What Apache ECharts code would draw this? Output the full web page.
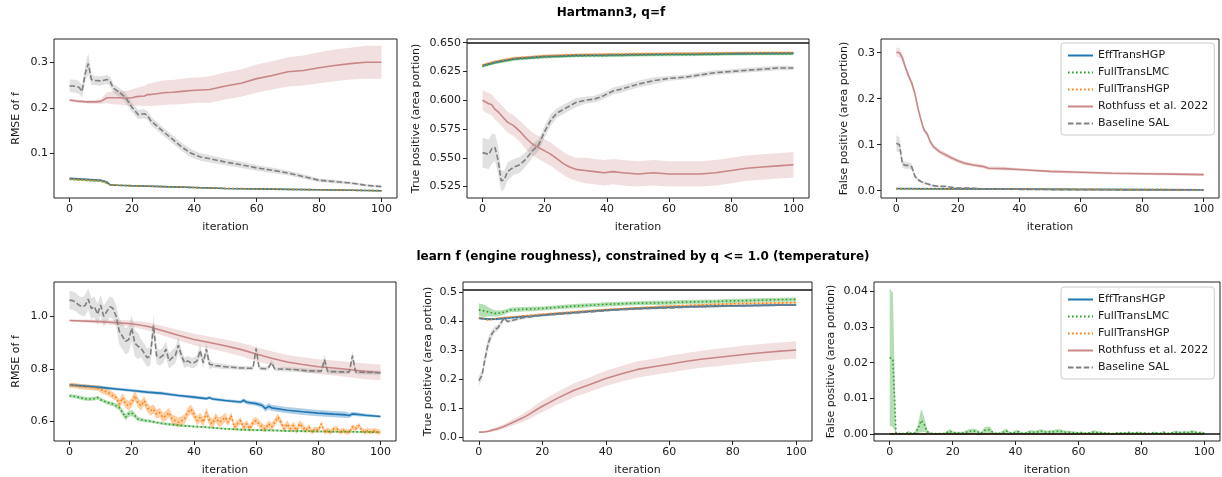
<!DOCTYPE html>
<html><head><meta charset="utf-8">
<script src="https://cdn.jsdelivr.net/npm/echarts@6/dist/echarts.min.js"></script>
<style>html,body{margin:0;padding:0;background:#fff}#c{width:1222px;height:477px}</style>
</head><body><div id="c"></div><script>
// ---------- data ----------
const SERIES_NAMES = ['EffTransHGP','FullTransLMC','FullTransHGP','Rothfuss et al. 2022','Baseline SAL'];
const X_TICKS = [0,20,40,60,80,100];
const ITER = [0,1,2,3,4,5,6,7,8,9,10,11,12,13,14,15,16,17,18,19,20,21,22,23,24,25,26,27,28,29,30,31,32,33,34,35,36,37,38,39,40,41,42,43,44,45,46,47,48,49,50,51,52,53,54,55,56,57,58,59,60,61,62,63,64,65,66,67,68,69,70,71,72,73,74,75,76,77,78,79,80,81,82,83,84,85,86,87,88,89,90,91,92,93,94,95,96,97,98,99,100];

// top-left: RMSE of f (Hartmann3)
const tl_yticks = [0.1,0.2,0.3];
const tl_x = [0,1,2,3,4,5,6,7,8,10,12,13,14,16,18,20,22,24,25,26,28,30,33,36,39,42,45,50,55,60,65,70,75,80,85,90,95,100];
const tl_sal = [0.248,0.248,0.247,0.245,0.236,0.275,0.297,0.262,0.260,0.259,0.262,0.258,0.243,0.234,0.222,0.201,0.185,0.187,0.183,0.172,0.160,0.148,0.131,0.114,0.100,0.092,0.088,0.081,0.075,0.068,0.063,0.057,0.049,0.041,0.038,0.035,0.030,0.027];
const tl_sal_sd = [0.014,0.014,0.014,0.014,0.014,0.018,0.024,0.012,0.010,0.010,0.010,0.010,0.010,0.010,0.010,0.010,0.010,0.010,0.010,0.009,0.009,0.009,0.009,0.009,0.009,0.008,0.008,0.007,0.007,0.006,0.006,0.005,0.005,0.004,0.004,0.003,0.003,0.002];
const tl_roth = [0.217,0.216,0.215,0.214,0.214,0.213,0.213,0.213,0.213,0.214,0.222,0.222,0.222,0.222,0.221,0.222,0.225,0.226,0.229,0.229,0.231,0.233,0.234,0.236,0.238,0.239,0.240,0.248,0.254,0.264,0.271,0.279,0.282,0.288,0.293,0.297,0.300,0.300];
const tl_roth_sd = [0.003,0.003,0.003,0.003,0.003,0.003,0.004,0.004,0.004,0.005,0.012,0.013,0.014,0.015,0.016,0.018,0.020,0.022,0.024,0.025,0.026,0.027,0.027,0.028,0.028,0.028,0.029,0.030,0.030,0.031,0.031,0.032,0.033,0.034,0.035,0.035,0.036,0.036];
const tl_xc = [0,5,10,12,13,15,20,30,40,50,60,70,80,90,100];
const tl_eff = [0.045,0.043,0.041,0.037,0.031,0.030,0.029,0.027,0.025,0.023,0.022,0.021,0.020,0.019,0.018];
const tl_lmc = [0.043,0.041,0.039,0.035,0.031,0.030,0.029,0.027,0.025,0.023,0.022,0.021,0.020,0.019,0.018];
const tl_hgp = [0.044,0.042,0.040,0.036,0.031,0.030,0.029,0.027,0.025,0.023,0.022,0.021,0.020,0.019,0.018];
const tl_sm_sd = [0.002,0.002,0.002,0.002,0.001,0.001,0.001,0.001,0.001,0.001,0.001,0.001,0.001,0.001,0.001];

// top-middle: true positive
const tm_yticks = [0.525,0.55,0.575,0.6,0.625,0.65];
const tm_ref = 0.6465;
const tm_x = [0,2,3,4,5,6,7,8,10,12,14,16,18,20,22,24,26,28,30,33,36,39,42,45,50,55,60,65,70,75,80,85,90,95,100];
const tm_sal = [0.5545,0.553,0.558,0.559,0.548,0.530,0.531,0.538,0.542,0.544,0.549,0.556,0.561,0.573,0.583,0.589,0.592,0.595,0.598,0.600,0.601,0.604,0.608,0.610,0.614,0.617,0.619,0.620,0.622,0.624,0.625,0.626,0.627,0.628,0.628];
const tm_sal_sd = [0.013,0.013,0.013,0.012,0.012,0.009,0.008,0.008,0.007,0.007,0.006,0.006,0.005,0.005,0.005,0.004,0.004,0.004,0.004,0.003,0.003,0.003,0.003,0.003,0.003,0.003,0.002,0.002,0.002,0.002,0.002,0.002,0.002,0.002,0.002];
const tm_roth = [0.600,0.597,0.596,0.592,0.590,0.587,0.584,0.581,0.578,0.573,0.567,0.562,0.559,0.556,0.553,0.549,0.545,0.542,0.540,0.539,0.538,0.537,0.538,0.537,0.536,0.537,0.536,0.536,0.536,0.537,0.539,0.541,0.542,0.543,0.544];
const tm_roth_sd = [0.009,0.009,0.009,0.009,0.009,0.009,0.009,0.009,0.009,0.009,0.010,0.010,0.010,0.010,0.010,0.010,0.010,0.010,0.010,0.011,0.011,0.011,0.011,0.011,0.011,0.011,0.011,0.011,0.011,0.011,0.011,0.011,0.011,0.011,0.011];
const tm_xc = [0,2,4,6,8,10,15,20,25,30,40,50,60,70,80,90,100];
const tm_eff = [0.6300,0.6315,0.6330,0.6340,0.6350,0.6360,0.6370,0.6380,0.6385,0.6390,0.6393,0.6397,0.6400,0.6402,0.6405,0.6407,0.6408];
const tm_lmc = [0.6294,0.6310,0.6325,0.6335,0.6345,0.6355,0.6365,0.6375,0.6380,0.6385,0.6388,0.6392,0.6395,0.6397,0.6400,0.6402,0.6403];
const tm_hgp = [0.6305,0.6320,0.6335,0.6345,0.6355,0.6365,0.6375,0.6385,0.6390,0.6395,0.6398,0.6402,0.6405,0.6407,0.6410,0.6412,0.6413];
const tm_sm_sd = [0.0012,0.0012,0.0012,0.0012,0.0012,0.0012,0.0012,0.0012,0.0012,0.0012,0.0012,0.0012,0.0012,0.0012,0.0012,0.0012,0.0012];

// top-right: false positive
const tr_yticks = [0,0.1,0.2,0.3];
const tr_x = [0,1,2,3,4,5,6,7,8,9,10,11,12,14,16,18,20,22,25,28,30,35,40,45,50,60,70,80,90,100];
const tr_roth = [0.301,0.300,0.288,0.267,0.249,0.234,0.212,0.180,0.154,0.132,0.124,0.107,0.096,0.085,0.078,0.071,0.065,0.060,0.056,0.053,0.049,0.048,0.046,0.044,0.042,0.040,0.038,0.037,0.036,0.035];
const tr_roth_sd = [0.010,0.010,0.009,0.007,0.007,0.007,0.007,0.007,0.006,0.006,0.006,0.005,0.005,0.005,0.005,0.005,0.005,0.004,0.004,0.004,0.004,0.004,0.003,0.003,0.003,0.003,0.003,0.003,0.003,0.003];
const tr_sal = [0.103,0.100,0.058,0.055,0.055,0.052,0.032,0.024,0.020,0.017,0.015,0.013,0.011,0.0095,0.0095,0.0074,0.006,0.006,0.0055,0.004,0.004,0.0035,0.003,0.003,0.0025,0.0022,0.002,0.0018,0.0016,0.0015];
const tr_sal_sd = [0.018,0.016,0.008,0.007,0.007,0.007,0.005,0.004,0.003,0.003,0.003,0.003,0.003,0.002,0.002,0.002,0.002,0.002,0.002,0.0015,0.0015,0.0015,0.0015,0.0015,0.0015,0.001,0.001,0.001,0.001,0.001];
const tr_xc = [0,20,40,60,80,100];
const tr_eff = [0.0045,0.0040,0.0035,0.0030,0.0025,0.0022];
const tr_lmc = [0.0043,0.0038,0.0033,0.0028,0.0024,0.0021];
const tr_hgp = [0.0045,0.0040,0.0035,0.0030,0.0025,0.0022];
const tr_sm_sd = [0.0008,0.0008,0.0008,0.0008,0.0008,0.0008];

// bottom-left: RMSE of f (engine)
const bl_yticks = [0.6,0.8,1.0];
const bl_sal = [1.062,1.060,1.054,1.043,1.037,1.041,1.066,1.030,1.037,1.008,
 1.043,1.000,1.019,1.037,1.030,1.000,0.943,0.924,0.905,0.911,
 0.955,0.898,0.886,0.879,0.860,0.842,0.849,0.965,0.849,0.842,
 0.850,0.875,0.830,0.842,0.850,0.890,0.850,0.823,0.830,0.823,
 0.823,0.830,0.870,0.823,0.875,0.817,0.815,0.812,0.811,0.809,
 0.808,0.807,0.806,0.805,0.804,0.803,0.803,0.802,0.802,0.802,
 0.877,0.802,0.801,0.800,0.805,0.823,0.800,0.799,0.799,0.798,
 0.798,0.797,0.797,0.796,0.795,0.794,0.793,0.792,0.792,0.791,
 0.791,0.791,0.835,0.790,0.789,0.789,0.789,0.788,0.788,0.788,
 0.788,0.850,0.788,0.787,0.787,0.786,0.786,0.786,0.785,0.785,
 0.785];
const bl_sal_sd = [0.035,0.035,0.035,0.035,0.035,0.040,0.040,0.040,0.040,0.040,
 0.040,0.040,0.040,0.040,0.040,0.040,0.050,0.050,0.050,0.050,
 0.050,0.050,0.050,0.035,0.035,0.035,0.035,0.040,0.030,0.030,
 0.030,0.030,0.030,0.030,0.030,0.030,0.020,0.020,0.020,0.020,
 0.020,0.020,0.025,0.020,0.025,0.020,0.010,0.010,0.010,0.010,
 0.010,0.008,0.008,0.008,0.008,0.008,0.008,0.008,0.008,0.008,
 0.020,0.008,0.008,0.008,0.008,0.010,0.008,0.008,0.008,0.008,
 0.008,0.008,0.008,0.008,0.008,0.008,0.008,0.008,0.008,0.008,
 0.008,0.008,0.020,0.008,0.008,0.008,0.008,0.008,0.008,0.008,
 0.008,0.020,0.008,0.008,0.008,0.008,0.008,0.008,0.008,0.008,
 0.008];
const bl_hgp = [0.736,0.737,0.736,0.733,0.732,0.730,0.729,0.728,0.727,0.726,
 0.722,0.716,0.712,0.705,0.697,0.690,0.665,0.690,0.668,0.659,
 0.671,0.697,0.671,0.659,0.678,0.652,0.640,0.646,0.627,0.633,
 0.614,0.621,0.633,0.608,0.602,0.596,0.602,0.608,0.633,0.646,
 0.627,0.602,0.614,0.596,0.633,0.602,0.590,0.614,0.596,0.602,
 0.615,0.596,0.621,0.577,0.590,0.602,0.577,0.590,0.571,0.596,
 0.602,0.590,0.578,0.571,0.590,0.578,0.596,0.615,0.596,0.571,
 0.590,0.571,0.584,0.565,0.590,0.578,0.565,0.578,0.559,0.571,
 0.565,0.590,0.559,0.565,0.559,0.571,0.571,0.559,0.565,0.559,
 0.559,0.578,0.571,0.584,0.565,0.559,0.565,0.559,0.565,0.559,
 0.559];
const bl_hgp_sd = [0.010,0.010,0.010,0.010,0.010,0.010,0.010,0.010,0.010,0.010,
 0.013,0.013,0.013,0.013,0.013,0.013,0.018,0.018,0.018,0.018,
 0.018,0.018,0.018,0.018,0.018,0.018,0.018,0.018,0.018,0.018,
 0.018,0.018,0.018,0.018,0.018,0.018,0.018,0.018,0.018,0.018,
 0.018,0.018,0.018,0.018,0.018,0.018,0.018,0.018,0.018,0.018,
 0.018,0.014,0.014,0.014,0.014,0.014,0.014,0.014,0.014,0.014,
 0.014,0.014,0.014,0.014,0.014,0.014,0.014,0.014,0.014,0.014,
 0.014,0.014,0.014,0.014,0.014,0.014,0.010,0.010,0.010,0.010,
 0.010,0.010,0.010,0.010,0.010,0.010,0.010,0.010,0.010,0.010,
 0.010,0.010,0.010,0.010,0.010,0.010,0.010,0.010,0.010,0.010,
 0.010];
const bl_eff_x = [0,5,10,15,20,25,30,35,40,44,45,46,50,55,56,57,60,62,63,64,65,70,75,80,85,89,90,91,95,100];
const bl_eff = [0.738,0.734,0.729,0.723,0.717,0.711,0.706,0.698,0.692,0.686,0.690,0.685,0.679,0.673,0.680,0.672,0.667,0.660,0.648,0.657,0.651,0.642,0.636,0.631,0.627,0.624,0.622,0.628,0.623,0.618];
const bl_eff_sd = [0.006,0.006,0.006,0.006,0.006,0.006,0.006,0.006,0.006,0.006,0.006,0.006,0.006,0.006,0.008,0.008,0.008,0.010,0.012,0.012,0.012,0.012,0.012,0.012,0.012,0.012,0.010,0.008,0.006,0.005];
const bl_roth_x = [0,10,20,25,30,35,40,45,50,55,60,65,70,75,80,85,90,95,100];
const bl_roth = [0.984,0.980,0.972,0.962,0.945,0.928,0.912,0.900,0.888,0.874,0.856,0.840,0.826,0.816,0.808,0.803,0.797,0.790,0.786];
const bl_roth_sd = [0.004,0.008,0.012,0.015,0.018,0.020,0.022,0.023,0.024,0.025,0.026,0.027,0.027,0.028,0.028,0.029,0.029,0.030,0.030];
const bl_lmc_x = [0,2,4,6,8,9,10,12,14,16,17,18,19,20,21,22,24,26,28,30,33,36,40,45,50,55,60,65,70,75,80,85,90,95,100];
const bl_lmc = [0.697,0.694,0.688,0.684,0.686,0.690,0.682,0.672,0.665,0.652,0.634,0.615,0.628,0.632,0.622,0.608,0.603,0.600,0.595,0.591,0.587,0.583,0.580,0.576,0.571,0.568,0.566,0.565,0.563,0.562,0.561,0.560,0.560,0.559,0.558];
const bl_lmc_sd = [0.007,0.007,0.007,0.007,0.007,0.007,0.007,0.007,0.008,0.010,0.012,0.012,0.012,0.012,0.010,0.008,0.006,0.006,0.005,0.005,0.005,0.005,0.004,0.004,0.004,0.004,0.004,0.004,0.004,0.004,0.004,0.004,0.004,0.004,0.004];

// bottom-middle: true positive
const bm_yticks = [0,0.1,0.2,0.3,0.4,0.5];
const bm_ref = 0.508;
const bm_x = [0,1,2,3,4,5,6,7,8,9,10,12,14,16,18,20,25,30,35,40,45,50,55,60,65,70,75,80,85,90,95,100];
const bm_sal = [0.196,0.215,0.275,0.327,0.355,0.372,0.378,0.395,0.412,0.400,0.402,0.408,0.413,0.416,0.419,0.421,0.425,0.429,0.433,0.437,0.441,0.443,0.445,0.447,0.449,0.451,0.452,0.453,0.454,0.455,0.456,0.456];
const bm_sal_sd = [0.017,0.015,0.020,0.020,0.015,0.012,0.010,0.008,0.008,0.006,0.005,0.005,0.005,0.004,0.004,0.004,0.003,0.003,0.003,0.003,0.003,0.003,0.003,0.003,0.003,0.003,0.003,0.003,0.003,0.003,0.003,0.003];
const bm_eff = [0.411,0.410,0.409,0.408,0.408,0.408,0.409,0.410,0.411,0.412,0.413,0.415,0.417,0.418,0.420,0.422,0.427,0.431,0.435,0.439,0.442,0.445,0.447,0.449,0.451,0.452,0.453,0.454,0.455,0.456,0.457,0.457];
const bm_eff_sd = [0.004,0.004,0.004,0.004,0.004,0.004,0.004,0.004,0.004,0.004,0.004,0.004,0.004,0.004,0.004,0.004,0.004,0.004,0.004,0.004,0.004,0.004,0.004,0.004,0.004,0.004,0.004,0.004,0.004,0.004,0.004,0.004];
const bm_hgp = [0.413,0.412,0.409,0.405,0.407,0.409,0.411,0.412,0.413,0.414,0.415,0.417,0.419,0.421,0.423,0.425,0.429,0.433,0.437,0.441,0.444,0.447,0.450,0.453,0.455,0.457,0.459,0.461,0.462,0.463,0.464,0.465];
const bm_hgp_sd = [0.003,0.003,0.003,0.003,0.003,0.003,0.003,0.003,0.003,0.003,0.003,0.003,0.003,0.003,0.003,0.003,0.003,0.003,0.003,0.003,0.003,0.003,0.003,0.003,0.003,0.003,0.003,0.003,0.003,0.003,0.003,0.003];
const bm_lmc = [0.440,0.438,0.436,0.433,0.430,0.428,0.428,0.430,0.432,0.436,0.440,0.441,0.442,0.443,0.444,0.445,0.449,0.453,0.456,0.459,0.461,0.463,0.464,0.465,0.467,0.468,0.469,0.471,0.472,0.474,0.475,0.476];
const bm_lmc_sd = [0.022,0.022,0.020,0.016,0.013,0.011,0.010,0.009,0.008,0.008,0.008,0.008,0.008,0.008,0.008,0.007,0.007,0.007,0.007,0.007,0.007,0.007,0.007,0.007,0.007,0.007,0.007,0.007,0.007,0.007,0.007,0.007];
const bm_roth = [0.019,0.019,0.020,0.022,0.025,0.028,0.031,0.035,0.039,0.044,0.049,0.059,0.069,0.081,0.095,0.108,0.137,0.163,0.183,0.204,0.220,0.235,0.244,0.253,0.262,0.270,0.276,0.282,0.288,0.293,0.298,0.302];
const bm_roth_sd = [0.003,0.003,0.004,0.004,0.005,0.006,0.007,0.007,0.008,0.009,0.010,0.012,0.014,0.016,0.018,0.020,0.022,0.024,0.025,0.026,0.027,0.028,0.028,0.029,0.029,0.029,0.030,0.030,0.030,0.030,0.030,0.030];

// bottom-right: false positive
const br_yticks = [0,0.01,0.02,0.03,0.04];
const br_ref = 0;
const br_lmc = [0.0215,0.0208,0.0002,0.0001,0.0001,0.0001,0.0005,0.0001,0.0003,0.0015,
 0.0038,0.0026,0.0006,0.0002,0.0001,0.0001,0.0001,0.0001,0.0003,0.0008,
 0.0004,0.0003,0.0003,0.0003,0.0004,0.0007,0.0008,0.0008,0.0006,0.0002,
 0.0010,0.0012,0.0011,0.0002,0.0002,0.0002,0.0005,0.0009,0.0004,0.0002,
 0.0006,0.0006,0.0002,0.0002,0.0005,0.0006,0.0005,0.0006,0.0008,0.0006,
 0.0005,0.0006,0.0006,0.0007,0.0008,0.0006,0.0005,0.0005,0.0004,0.0004,
 0.0003,0.0004,0.0002,0.0003,0.0004,0.0006,0.0004,0.0004,0.0003,0.0003,
 0.0002,0.0001,0.0003,0.0003,0.0003,0.0003,0.0004,0.0003,0.0003,0.0004,
 0.0003,0.0003,0.0002,0.0002,0.0004,0.0003,0.0002,0.0005,0.0002,0.0002,
 0.0004,0.0005,0.0004,0.0004,0.0005,0.0004,0.0006,0.0005,0.0003,0.0004,
 0.0003];
const br_lmc_sd = [0.0192,0.0188,0.0002,0.0001,0.0001,0.0001,0.0004,0.0001,0.0003,0.0012,
 0.0033,0.0020,0.0005,0.0002,0.0001,0.0001,0.0001,0.0001,0.0003,0.0007,
 0.0004,0.0003,0.0003,0.0003,0.0004,0.0006,0.0007,0.0007,0.0005,0.0002,
 0.0008,0.0009,0.0009,0.0002,0.0002,0.0002,0.0004,0.0007,0.0003,0.0002,
 0.0005,0.0005,0.0002,0.0002,0.0004,0.0005,0.0004,0.0005,0.0006,0.0005,
 0.0004,0.0005,0.0005,0.0006,0.0006,0.0005,0.0004,0.0004,0.0003,0.0003,
 0.0002,0.0003,0.0002,0.0002,0.0003,0.0005,0.0003,0.0003,0.0002,0.0002,
 0.0001,0.0001,0.0002,0.0002,0.0002,0.0002,0.0003,0.0002,0.0002,0.0003,
 0.0002,0.0002,0.0001,0.0001,0.0003,0.0002,0.0001,0.0004,0.0001,0.0001,
 0.0003,0.0004,0.0003,0.0003,0.0004,0.0003,0.0005,0.0004,0.0002,0.0003,
 0.0002];
const br_xc = [0,20,40,60,80,100];
const br_eff = [0,0,0,0,0,0];
const br_hgp = [0,0,0,0,0,0];
const br_roth = [0,0,0,0,0,0];
const br_sal = [0,0,0,0,0,0];

// ---------- styling / layout ----------
const FONT = 'DejaVu Sans';
const TXT = '#1a1a1a';
const FS = 11;
const STY = [
  {color:'#1f77b4', dash:'solid', band:'rgba(31,119,180,0.35)'},
  {color:'#2ca02c', dash:[1.6,2.4], band:'rgba(44,160,44,0.35)'},
  {color:'#ff7f0e', dash:[1.6,2.4], band:'rgba(255,127,14,0.38)'},
  {color:'#c98686', dash:'solid', band:'rgba(165,42,42,0.15)'},
  {color:'#7f7f7f', dash:[5.5,2.4], band:'rgba(127,127,127,0.23)'}
];

const panels = [
  {grid:{left:54,top:39,width:343,height:159}, ymin:0.002, ymax:0.351, ticks:tl_yticks, dec:1, yname:'RMSE of f', gap:32,
   s:[[tl_xc,tl_eff,tl_sm_sd],[tl_xc,tl_lmc,tl_sm_sd],[tl_xc,tl_hgp,tl_sm_sd],[tl_x,tl_roth,tl_roth_sd],[tl_x,tl_sal,tl_sal_sd]]},
  {grid:{left:467,top:39,width:342,height:159}, ymin:0.5151, ymax:0.6532, ticks:tm_yticks, dec:3, yname:'True positive (area portion)', gap:45, ref:tm_ref,
   s:[[tm_xc,tm_eff,tm_sm_sd],[tm_xc,tm_lmc,tm_sm_sd],[tm_xc,tm_hgp,tm_sm_sd],[tm_x,tm_roth,tm_roth_sd],[tm_x,tm_sal,tm_sal_sd]]},
  {grid:{left:881,top:39,width:338,height:159}, ymin:-0.0158, ymax:0.3297, ticks:tr_yticks, dec:1, yname:'False positive (area portion)', gap:31,
   s:[[tr_xc,tr_eff,tr_sm_sd],[tr_xc,tr_lmc,tr_sm_sd],[tr_xc,tr_hgp,tr_sm_sd],[tr_x,tr_roth,tr_roth_sd],[tr_x,tr_sal,tr_sal_sd]]},
  {grid:{left:54,top:282,width:342,height:160}, ymin:0.5245, ymax:1.131, ticks:bl_yticks, dec:1, yname:'RMSE of f', gap:32,
   s:[[bl_eff_x,bl_eff,bl_eff_sd],[bl_lmc_x,bl_lmc,bl_lmc_sd],[ITER,bl_hgp,bl_hgp_sd],[bl_roth_x,bl_roth,bl_roth_sd],[ITER,bl_sal,bl_sal_sd]]},
  {grid:{left:463,top:282,width:349,height:160}, ymin:-0.0116, ymax:0.536, ticks:bm_yticks, dec:1, yname:'True positive (area portion)', gap:29, ref:bm_ref,
   s:[[bm_x,bm_eff,bm_eff_sd],[bm_x,bm_lmc,bm_lmc_sd],[bm_x,bm_hgp,bm_hgp_sd],[bm_x,bm_roth,bm_roth_sd],[bm_x,bm_sal,bm_sal_sd]]},
  {grid:{left:874,top:282,width:346,height:160}, ymin:-0.00196, ymax:0.0426, ticks:br_yticks, dec:2, yname:'False positive (area portion)', gap:37, ref:br_ref, front:true,
   s:[[br_xc,br_eff,null],[ITER,br_lmc,br_lmc_sd],[br_xc,br_hgp,null],[br_xc,br_roth,null],[br_xc,br_sal,null]]}
];

const txt = {color:TXT, fontSize:FS, fontFamily:FONT};
const grids=[], xAxes=[], yAxes=[], series=[];
panels.forEach((p, pi) => {
  grids.push(Object.assign({show:true, borderColor:'#222', borderWidth:1, backgroundColor:'transparent', containLabel:false}, p.grid));
  xAxes.push({type:'value', gridIndex:pi, min:-5, max:105, splitLine:{show:false},
    axisLine:{show:false, onZero:false},
    axisTick:{show:true, length:4, lineStyle:{color:'#222'}, customValues:X_TICKS},
    axisLabel:Object.assign({customValues:X_TICKS, margin:6}, txt),
    name:'iteration', nameLocation:'middle', nameGap:24, nameTextStyle:txt});
  yAxes.push({type:'value', gridIndex:pi, min:p.ymin, max:p.ymax, splitLine:{show:false},
    axisLine:{show:false, onZero:false},
    axisTick:{show:true, length:4, lineStyle:{color:'#222'}, customValues:p.ticks},
    axisLabel:Object.assign({customValues:p.ticks, margin:6, formatter:(v)=>Number(v).toFixed(p.dec)}, txt),
    name:p.yname, nameLocation:'middle', nameGap:p.gap, nameRotate:90, nameTextStyle:txt});
  p.s.forEach((d, si) => {
    const [xs, ys, sd] = d;
    const st = STY[si];
    const z = (p.front && (si===1 || si===2)) ? 4 : 2;
    if (sd) {
      series.push({type:'custom', coordinateSystem:'cartesian2d', xAxisIndex:pi, yAxisIndex:pi, silent:true, z:z, clip:true,
        data:[[xs[0], ys[0]]], encode:{x:0, y:1},
        renderItem:(params, api) => {
          const pts=[];
          for (let k=0;k<xs.length;k++) pts.push(api.coord([xs[k], ys[k]+sd[k]]));
          for (let k=xs.length-1;k>=0;k--) pts.push(api.coord([xs[k], ys[k]-sd[k]]));
          return {type:'polygon', shape:{points:pts}, style:{fill:st.band}};
        }});
    }
    const ser = {type:'line', name:SERIES_NAMES[si], xAxisIndex:pi, yAxisIndex:pi, z:z, silent:true,
      data:xs.map((x,k)=>[x, ys[k]]), showSymbol:false, symbol:'none',
      lineStyle:{color:st.color, width:1.6, type:st.dash}, itemStyle:{color:st.color}};
    if (si===4 && p.ref !== undefined) {
      ser.markLine = {silent:true, symbol:['none','none'], label:{show:false}, animation:false,
        lineStyle:{color:'#111', width:1.5, type:'solid'}, data:[{yAxis:p.ref}]};
    }
    series.push(ser);
  });
});

const legendBase = {orient:'vertical', data:SERIES_NAMES, selectedMode:false, itemWidth:25, itemHeight:12, itemGap:6,
  padding:[7,6,6,6], backgroundColor:'#fff', borderColor:'#cccccc', borderWidth:1, borderRadius:3,
  itemStyle:{opacity:0, borderWidth:0},
  textStyle:{color:TXT, fontSize:FS, fontFamily:FONT}, z:10};

const chart = echarts.init(document.getElementById('c'));
chart.setOption({
  animation:false,
  backgroundColor:'#fff',
  grid:grids, xAxis:xAxes, yAxis:yAxes, series:series,
  legend:[Object.assign({left:1061, top:43}, legendBase), Object.assign({left:1061, top:287}, legendBase)],
  graphic:[
    {type:'text', x:611, y:13, style:{text:'Hartmann3, q=f', font:'bold 12px "DejaVu Sans"', fill:'#000', textAlign:'center', textVerticalAlign:'middle'}},
    {type:'text', x:643, y:257, style:{text:'learn f (engine roughness), constrained by q <= 1.0 (temperature)', font:'bold 12px "DejaVu Sans"', fill:'#000', textAlign:'center', textVerticalAlign:'middle'}}
  ]
});
</script></body></html>
